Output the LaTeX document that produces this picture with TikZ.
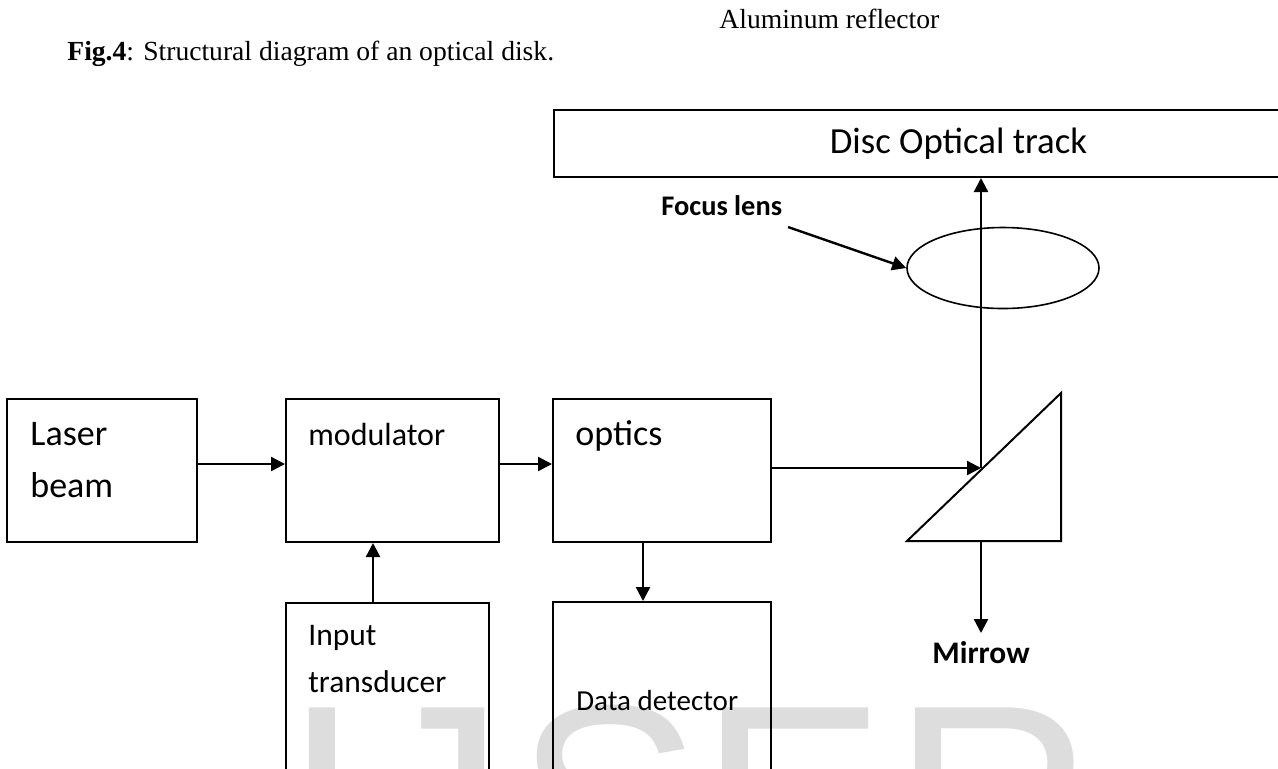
\documentclass[tikz,border=0pt]{standalone}
\usepackage{fontspec}
\setmainfont{Liberation Serif}
\newfontfamily\calibri{Carlito}
\newfontfamily\wmfont{Liberation Sans}
\usetikzlibrary{arrows.meta,shapes.geometric,positioning}
\definecolor{wmgray}{RGB}{221,221,221}
\tikzset{
	every block/.style={
		rectangle,
		draw,
		line width=1pt,
		inner sep=0pt
	},
	block text/.style 2 args={
		anchor=base west,
		inner sep=0pt,
		align=left,
		font=\calibri\fontsize{#1}{#2}\selectfont
	},
	beam/.style={
		line width=1.2pt,
		-{Triangle[length=7pt,width=7pt]}
	},
	watermark/.style={
		anchor=base west,
		inner sep=0pt,
		text=wmgray,
		font=\wmfont\fontsize{140}{140}\selectfont
	},
}

\begin{document}
\begin{tikzpicture}[x=0.5pt, y=-0.5pt]

\clip (0,0) rectangle (1278,768);

% watermark
\foreach \ch/\xx in {I/283,J/365,S/515,E/699,R/892}
	\node [watermark] (wm-\ch) at (\xx,900) {\ch};

% caption
\node [anchor=base west, inner sep=0pt, font=\fontsize{13.8}{16}\selectfont] (caption) at (67,60)
	{\textbf{Fig.4}: Structural diagram of an optical disk.};
\node [anchor=base west, inner sep=0pt, font=\fontsize{13.8}{16}\selectfont] (reflector) at (719,28)
	{Aluminum reflector};

% blocks
\node [every block, minimum width=95pt, minimum height=71.5pt] (laser) at (102,470.5) {};
\node [every block, minimum width=106.5pt, minimum height=71.5pt] (modulator) at (392.5,470.5) {};
\node [every block, minimum width=109pt, minimum height=71.5pt] (optics) at (662,470.5) {};
\node [every block, minimum width=101.5pt, minimum height=113.5pt] (transducer) at (387.5,716.5) {};
\node [every block, minimum width=109pt, minimum height=114pt] (detector) at (662,716) {};
\node [every block, minimum width=404.5pt, minimum height=33.5pt,
	font=\calibri\fontsize{18.4}{22}\selectfont] (track) at (958.5,143.5) {Disc Optical track};
\node [draw, ellipse, line width=0.8pt, minimum width=96pt, minimum height=40.5pt,
	inner sep=0pt] (lens) at (1003,268) {};

% (base of a two-line text is its last line)
\node [block text={18}{26}] (laser-text) at (30,497) {Laser\\beam};
\node [block text={16}{20}] (modulator-text) at (308,445) {modulator};
\node [block text={18}{22}] (optics-text) at (575,445) {optics};
\node [block text={15.75}{23.5}] (transducer-text) at (308,692) {Input\\transducer};
\node [block text={14.5}{18}] (detector-text) at (576,710) {Data detector};

% mirror
\coordinate (mirror-bl) at (907,541);
\coordinate (mirror-tr) at (1061,393);
\coordinate (mirror-br) at (1061,541);
\coordinate (hit) at (981,468);
\draw [line width=1pt] (mirror-bl) -- (mirror-tr) -- (mirror-br) -- cycle;

\node [anchor=north, inner sep=4pt, font=\calibri\bfseries\fontsize{15.7}{19}\selectfont]
	(mirrow) at (981,633) {Mirrow};
\node [anchor=base west, inner sep=0pt, font=\calibri\bfseries\fontsize{14.2}{17}\selectfont]
	(focus) at (661,215) {Focus lens};
\coordinate (focus-tail) at (788,227);

% beams
\draw [beam] (laser.east |- 0,464) -- (modulator.west |- 0,464);
\draw [beam] (modulator.east |- 0,464) -- (optics.west |- 0,464);
\draw [beam] (transducer.north -| 373,0) -- (modulator.south -| 373,0);
\draw [beam] (optics.south -| 643,0) -- (detector.north -| 643,0);
\draw [beam] (optics.east |- hit) -- (hit);
\draw [beam] (hit) -- (track.south -| hit);
\draw [beam] (hit |- mirror-bl) -- (mirrow);
\draw [beam] (focus-tail) -- (lens.west);

\end{tikzpicture}
\end{document}
